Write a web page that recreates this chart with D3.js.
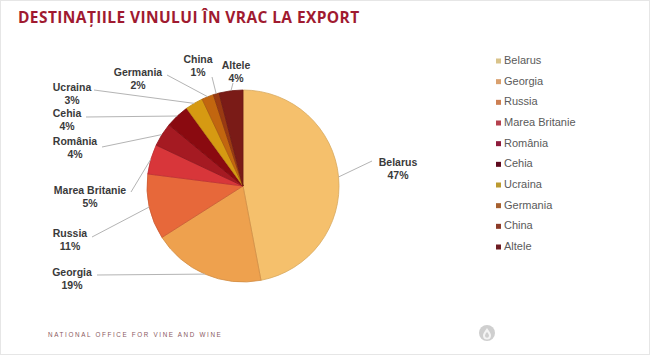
<!DOCTYPE html>
<html><head><meta charset="utf-8">
<script src="https://cdn.jsdelivr.net/npm/d3@7"></script>
<style>
html,body{margin:0;padding:0;background:#fff;}
svg{display:block;}
</style></head>
<body>
<svg id="chart" width="650" height="355"></svg>
<script>
const categories = ["Belarus","Georgia","Russia","Marea Britanie","România","Cehia","Ucraina","Germania","China","Altele"];
const values = [47,19,11,5,4,4,3,2,1,4];
const percentLabels = ["47%","19%","11%","5%","4%","4%","3%","2%","1%","4%"];
const colors = ["#F5C06C","#EEA14E","#E7683A","#D8363A","#A51A22","#8A0A10","#D69A12","#C2660F","#9A3A12","#7A1B17"];
const legendColors = ["#D9C38A","#D9A06E","#CC7F52","#B5414E","#8E1B3B","#5E0A1E","#BB9A30","#A6602F","#8C3B28","#6E1C22"];
// label layout (text center / first baseline, leader end)
const labelLayout = [
  {x:398,y:166,lx:372,ly:161},
  {x:72,y:276,lx:97,ly:275},
  {x:70,y:237,lx:92,ly:237},
  {x:90,y:194,lx:131,ly:192},
  {x:75,y:145,lx:102,ly:147},
  {x:67,y:117,lx:86,ly:117},
  {x:72,y:91,lx:94,ly:90},
  {x:138,y:76,lx:167,ly:75},
  {x:198,y:63,lx:212,ly:77},
  {x:236,y:69,lx:233,ly:83}
];

const svg = d3.select("#chart");
svg.append("rect").attr("x",0.5).attr("y",0.5).attr("width",649).attr("height",354)
  .attr("fill","#fff").attr("stroke","#e6e6e6");

svg.append("text").attr("x",18).attr("y",23)
  .attr("font-family","Open Sans, sans-serif").attr("font-weight",700)
  .attr("font-size",15.5).attr("fill","#A01A30").attr("letter-spacing",0.4)
  .text("DESTINAȚIILE VINULUI ÎN VRAC LA EXPORT");

const cx = 243, cy = 186, R = 96;
const data = categories.map((c,i)=>({name:c,value:values[i],pct:percentLabels[i],color:colors[i],lc:legendColors[i],lay:labelLayout[i]}));
const pie = d3.pie().value(d=>d.value).sort(null);
const arcs = pie(data);
const arc = d3.arc().innerRadius(0).outerRadius(R);

const g = svg.append("g").attr("transform",`translate(${cx},${cy})`);
g.selectAll("path").data(arcs).join("path")
  .attr("d",arc)
  .attr("fill",d=>d.data.color)
  .attr("stroke",d=>d3.color(d.data.color).darker(0.35))
  .attr("stroke-width",0.8);

const edge = d3.arc().innerRadius(R).outerRadius(R);
svg.append("g").selectAll("line").data(arcs).join("line")
  .attr("x1",d=>cx+edge.centroid(d)[0])
  .attr("y1",d=>cy+edge.centroid(d)[1])
  .attr("x2",d=>d.data.lay.lx).attr("y2",d=>d.data.lay.ly)
  .attr("stroke","#b4b4b4").attr("stroke-width",1);

const lab = svg.append("g").attr("font-family","Liberation Sans, Arial, sans-serif")
  .attr("font-weight",700).attr("font-size",10.5).attr("fill","#3a3a3a").attr("text-anchor","middle");
arcs.forEach(d=>{
  const L = d.data.lay;
  lab.append("text").attr("x",L.x).attr("y",L.y).text(d.data.name);
  lab.append("text").attr("x",L.x).attr("y",L.y+13).text(d.data.pct);
});

const leg = svg.append("g");
const ly = d3.scalePoint().domain(categories).range([63,249]);
categories.forEach((c,i)=>{
  leg.append("rect").attr("x",496).attr("y",ly(c)-4.5).attr("width",5).attr("height",5).attr("fill",legendColors[i]);
  leg.append("text").attr("x",504).attr("y",ly(c)+1)
    .attr("font-family","Liberation Sans, Arial, sans-serif").attr("font-size",11).attr("fill","#5a5a5a")
    .text(c);
});

svg.append("text").attr("x",48).attr("y",337)
  .attr("font-family","Liberation Sans, Arial, sans-serif").attr("font-size",6.3)
  .attr("letter-spacing",1.65).attr("fill","#8a5a62")
  .text("NATIONAL OFFICE FOR VINE AND WINE");

const lg = svg.append("g").attr("transform","translate(487,333)");
lg.append("circle").attr("r",8).attr("fill","#cfcfcf");
lg.append("path").attr("d","M0,-5 C3,-1 4,1 4,2.5 A4,4 0 0 1 -4,2.5 C-4,1 -3,-1 0,-5 Z").attr("fill","#f4f4f4");
lg.append("path").attr("d","M0,-1 C1.6,1 2,2 2,2.8 A2,2 0 0 1 -2,2.8 C-2,2 -1.6,1 0,-1 Z").attr("fill","#cfcfcf");
</script>
</body></html>
